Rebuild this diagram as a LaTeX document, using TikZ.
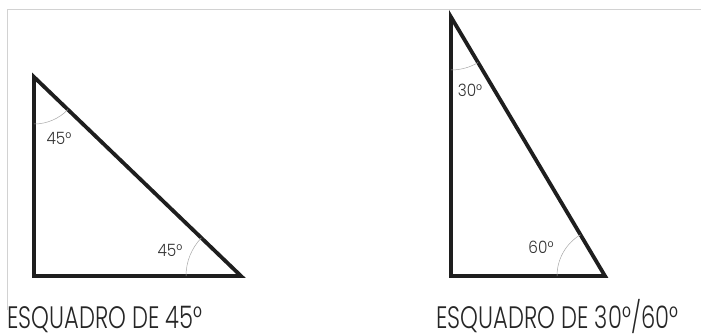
\documentclass[tikz,border=0pt]{standalone}
\usepackage{fontspec}
\IfFontExistsTF{Poppins Light}{%
  \newfontfamily\capfont[FakeStretch=0.73]{Poppins Light}%
  \newfontfamily\angfont[FakeStretch=0.9]{Poppins Light}%
}{%
  \newfontfamily\capfont[FakeStretch=0.73]{Poppins}%
  \newfontfamily\angfont[FakeStretch=0.9]{Poppins}%
}
\definecolor{edge}{HTML}{1E1E1E}
\definecolor{frame}{HTML}{D2D2D2}
\definecolor{arcc}{HTML}{A8A8A8}
\begin{document}
\begin{tikzpicture}[x=1pt,y=-1pt,
  side/.style={draw=edge,line width=3.8pt,line join=miter},
  anglearc/.style={draw=arcc,line width=0.5pt},
  anglelabel/.style={font=\angfont\fontsize{17}{17}\selectfont,text=black!80,inner sep=0pt},
  caption/.style={font=\capfont\fontsize{31}{31}\selectfont,text=black!85,inner sep=0pt,anchor=base west,text depth=0pt}]
\useasboundingbox (0,0) rectangle (701,334);
\draw[frame,line width=1pt] (7,310) -- (7,10) -- (701,10);
% 45 triangle
\coordinate (A) at (34,77);
\coordinate (B) at (34,276);
\coordinate (C) at (241,276);
\draw[side] (A) -- (B) -- (C) -- cycle;
\draw[anglearc] (A) ++(43.9:47) arc[start angle=43.9,end angle=90,radius=47];
\draw[anglearc] (C) ++(180:55) arc[start angle=180,end angle=223.9,radius=55];
\node[anglelabel] (a1) at (59,138) {45°};
\node[anglelabel] (a2) at (170,250) {45°};
% 30/60 triangle
\coordinate (T) at (451,17);
\coordinate (L) at (451,276);
\coordinate (R) at (605,276);
\draw[side] (T) -- (L) -- (R) -- cycle;
\draw[anglearc] (T) ++(59.3:53) arc[start angle=59.3,end angle=90,radius=53];
\draw[anglearc] (R) ++(180:48) arc[start angle=180,end angle=239.3,radius=48];
\node[anglelabel] (a3) at (470,90) {30°};
\node[anglelabel] (a4) at (541,247) {60°};
% captions
\node[caption] (c1) at (7,328) {ESQUADRO DE 45°};
\node[caption] (c2) at (436,328) {ESQUADRO DE 30°/60°};
\end{tikzpicture}
\end{document}
